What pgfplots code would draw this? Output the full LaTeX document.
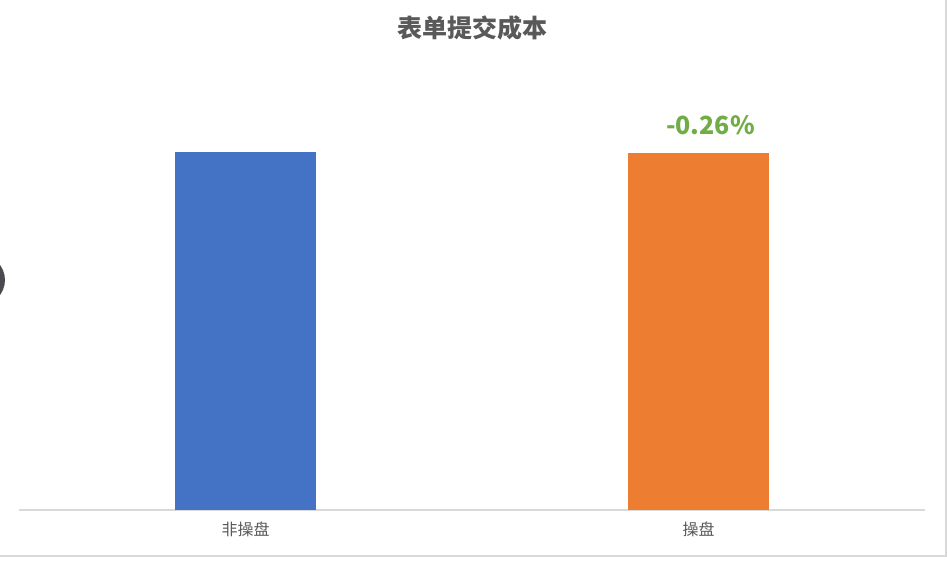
\documentclass[border=0pt]{standalone}
\usepackage{fontspec}
\setmainfont{Noto Sans CJK SC}
\usepackage{pgfplots}
\pgfplotsset{compat=1.18}

\definecolor{barblue}{HTML}{4472C4}
\definecolor{barorange}{HTML}{ED7D31}
\definecolor{lblgreen}{HTML}{70AD47}
\definecolor{txtgray}{HTML}{595959}
\definecolor{linegray}{HTML}{D9D9D9}
\definecolor{knob}{HTML}{4A4A50}

\begin{document}
\begin{tikzpicture}[x=1pt,y=1pt]
  \useasboundingbox (0,0) rectangle (947,560);
  \begin{scope}
    \clip (0,0) rectangle (947,560);
    \fill[knob] (-20,280) circle (25);
  \end{scope}
  % frame edges (right and bottom)
  \draw[linegray, line width=2pt] (946,560) -- (946,4) -- (0,4);

  \node[text=txtgray, font=\fontsize{25}{30}\selectfont\bfseries] at (472,532) {表单提交成本};

  \begin{axis}[
      at={(19pt,50pt)}, anchor=south west,
      scale only axis,
      width=906pt, height=450pt,
      ymin=0, ymax=1.257,
      xmin=-0.5, xmax=1.5,
      ybar, bar width=141pt,
      axis y line=none,
      axis x line*=bottom,
      x axis line style={linegray, line width=1.5pt, -},
      xtick={0,1},
      xticklabels={非操盘,操盘},
      major tick length=0pt,
      xticklabel style={text=txtgray, font=\fontsize{16}{19}\selectfont, yshift=-8pt},
      clip=false
    ]
    \addplot[fill=barblue, draw=none, bar shift=0pt] coordinates {(0,1)};
    \addplot[fill=barorange, draw=none, bar shift=0pt,
      nodes near coords={-0.26\%},
      every node near coord/.style={anchor=center, xshift=12pt, yshift=28pt,
        text=lblgreen, font=\fontsize{25}{29}\selectfont\bfseries}
    ] coordinates {(1,0.9972)};
  \end{axis}
\end{tikzpicture}
\end{document}
